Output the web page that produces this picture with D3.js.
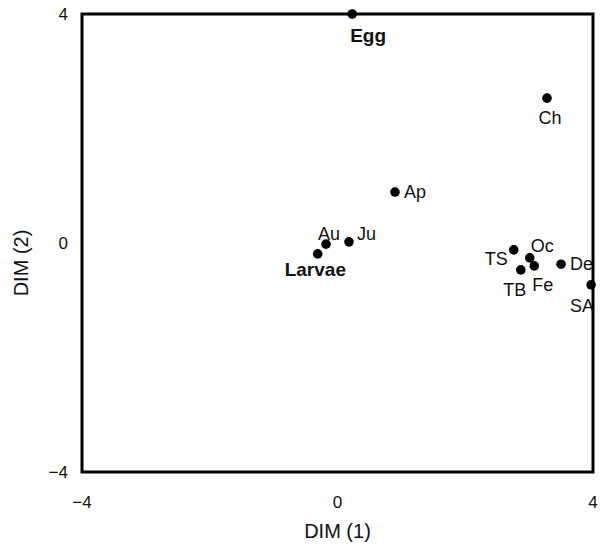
<!DOCTYPE html>
<html>
<head>
<meta charset="utf-8">
<script src="https://cdn.jsdelivr.net/npm/d3@7"></script>
<style>
  body { margin: 0; background: #fff; }
  text { font-family: "Liberation Sans", Arial, sans-serif; fill: #111; }
</style>
</head>
<body>
<div id="root"></div>
<script>
// data
var names = ['Egg', 'Ch', 'Ap', 'Au', 'Ju', 'Larvae', 'TS', 'Oc', 'Fe', 'TB', 'De', 'SA'];
var dim1 = [0.23, 3.28, 0.90, -0.18, 0.18, -0.31, 2.76, 3.01, 3.08, 2.87, 3.50, 3.97];
var dim2 = [4.00, 2.53, 0.89, -0.02, 0.02, -0.19, -0.12, -0.26, -0.40, -0.47, -0.37, -0.73];
var ticks = [-4, 0, 4];

// label placement next to each dot: [anchor, dx, dy(center)]
var labelPos = {
  Egg: ['start', -2, 22], Ch: ['middle', 3, 20], Ap: ['start', 9, 0],
  Au: ['start', -8, -10], Ju: ['start', 8, -8], Larvae: ['start', -33, 16],
  TS: ['end', -6, 9], Oc: ['start', 1, -12], Fe: ['start', -2, 19],
  TB: ['middle', -6, 20], De: ['start', 9, 0], SA: ['start', -21, 21]
};

var width = 600, height = 550;
var plotL = 82, plotR = 593, plotT = 14, plotB = 472;

var x = d3.scaleLinear().domain([-4, 4]).range([plotL, plotR]);
var y = d3.scaleLinear().domain([-4, 4]).range([plotB, plotT]);

var svg = d3.select('#root').append('svg')
  .attr('width', width)
  .attr('height', height);

// frame
svg.append('rect')
  .attr('x', plotL).attr('y', plotT)
  .attr('width', plotR - plotL).attr('height', plotB - plotT)
  .attr('fill', 'none').attr('stroke', '#000').attr('stroke-width', 3);

// tick labels
svg.selectAll('.xt').data(ticks).enter().append('text')
  .attr('x', function(d) { return x(d); })
  .attr('y', plotB + 36)
  .attr('text-anchor', 'middle')
  .style('font-size', '17px')
  .text(function(d) { return d < 0 ? '\u2212' + Math.abs(d) : d; });

svg.selectAll('.yt').data(ticks).enter().append('text')
  .attr('x', plotL - 14)
  .attr('y', function(d) { return y(d) + 6; })
  .attr('text-anchor', 'end')
  .style('font-size', '17px')
  .text(function(d) { return d < 0 ? '\u2212' + Math.abs(d) : d; });

// axis titles
svg.append('text')
  .attr('x', x(0)).attr('y', 538)
  .attr('text-anchor', 'middle')
  .style('font-size', '20px')
  .text('DIM (1)');

svg.append('text')
  .attr('transform', 'translate(28,' + (y(0) + 20) + ') rotate(-90)')
  .attr('text-anchor', 'middle')
  .style('font-size', '20px')
  .text('DIM (2)');

var pts = names.map(function(n, i) { return {name: n, x: dim1[i], y: dim2[i]}; });

svg.selectAll('circle').data(pts).enter().append('circle')
  .attr('cx', function(d) { return x(d.x); })
  .attr('cy', function(d) { return y(d.y); })
  .attr('r', 4.8)
  .attr('fill', '#000');

var big = function(d) { return d.name === 'Egg' || d.name === 'Larvae'; };

svg.selectAll('.lab').data(pts).enter().append('text')
  .attr('x', function(d) { return x(d.x) + labelPos[d.name][1]; })
  .attr('y', function(d) { return y(d.y) + labelPos[d.name][2] + 6; })
  .attr('text-anchor', function(d) { return labelPos[d.name][0]; })
  .style('font-size', function(d) { return big(d) ? '19px' : '18px'; })
  .style('font-weight', function(d) { return big(d) ? 'bold' : 'normal'; })
  .text(function(d) { return d.name; });
</script>
</body>
</html>
